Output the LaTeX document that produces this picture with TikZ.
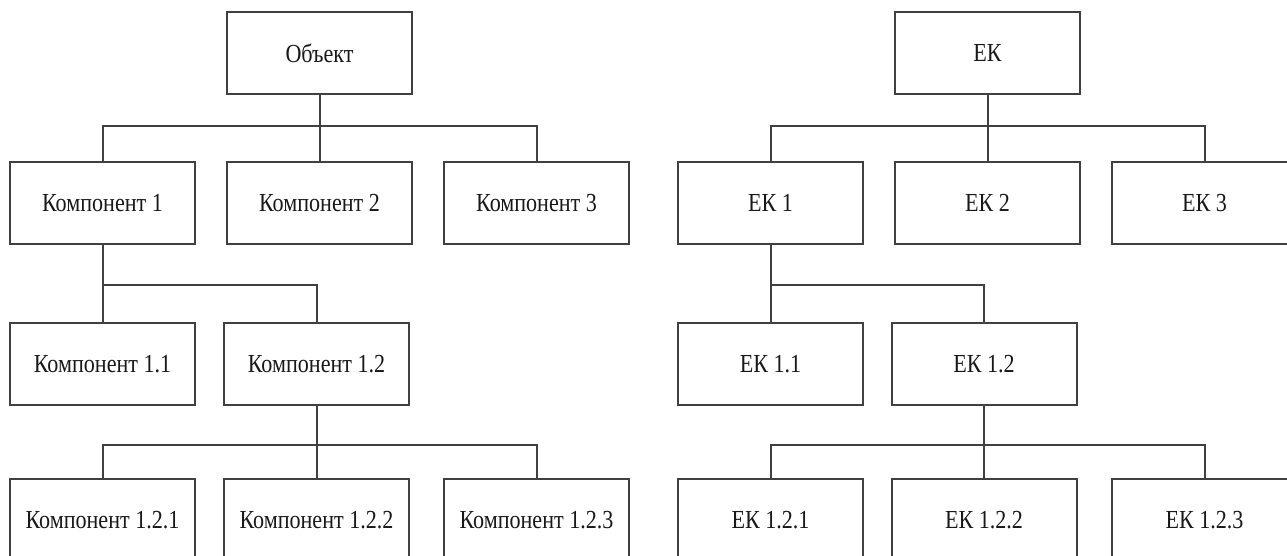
\documentclass[tikz,border=0pt]{standalone}
\usepackage{fontspec}
\usepackage{graphicx}
\setmainfont{Liberation Serif}
\newcommand{\boxtext}[1]{\scalebox{0.85}[1]{#1}}
\tikzset{
  unit/.style={draw=black!75, line width=2pt, fill=white,
    minimum width=185pt, minimum height=82pt, inner sep=0pt,
    text=black!90, font=\fontsize{26}{30}\selectfont},
  link/.style={draw=black!75, line width=2pt}
}
\begin{document}
\begin{tikzpicture}[x=1pt,y=-1pt]
  \clip (0,0) rectangle (1287,555);
  \fill[white] (0,0) rectangle (1287,555);

  % object decomposition tree
  \node[unit] (obj)  at (319.5,53)  {\boxtext{Объект}};
  \node[unit] (k1)   at (102.5,203) {\boxtext{Компонент 1}};
  \node[unit] (k2)   at (319.5,203) {\boxtext{Компонент 2}};
  \node[unit] (k3)   at (536.5,203) {\boxtext{Компонент 3}};
  \node[unit] (k11)  at (102.5,364) {\boxtext{Компонент 1.1}};
  \node[unit] (k12)  at (316.5,364) {\boxtext{Компонент 1.2}};
  \node[unit] (k121) at (102.5,520) {\boxtext{Компонент 1.2.1}};
  \node[unit] (k122) at (316.5,520) {\boxtext{Компонент 1.2.2}};
  \node[unit] (k123) at (536.5,520) {\boxtext{Компонент 1.2.3}};

  \draw[link] (obj.south) -- ++(0,31) -| (k1.north);
  \draw[link] (obj.south) -- ++(0,31) -| (k2.north);
  \draw[link] (obj.south) -- ++(0,31) -| (k3.north);
  \draw[link] (k1.south) -- ++(0,40) -| (k11.north);
  \draw[link] (k1.south) -- ++(0,40) -| (k12.north);
  \draw[link] (k12.south) -- ++(0,39) -| (k121.north);
  \draw[link] (k12.south) -- ++(0,39) -| (k122.north);
  \draw[link] (k12.south) -- ++(0,39) -| (k123.north);

  % EK tree
  \node[unit] (ek)   at (987.5,53)  {\boxtext{ЕК}};
  \node[unit] (ek1)  at (770.5,203) {\boxtext{ЕК 1}};
  \node[unit] (ek2)  at (987.5,203) {\boxtext{ЕК 2}};
  \node[unit] (ek3)  at (1204.5,203) {\boxtext{ЕК 3}};
  \node[unit] (ek11) at (770.5,364) {\boxtext{ЕК 1.1}};
  \node[unit] (ek12) at (984,364)   {\boxtext{ЕК 1.2}};
  \node[unit] (ek121) at (770.5,520) {\boxtext{ЕК 1.2.1}};
  \node[unit] (ek122) at (984,520)   {\boxtext{ЕК 1.2.2}};
  \node[unit] (ek123) at (1204.5,520) {\boxtext{ЕК 1.2.3}};

  \draw[link] (ek.south) -- ++(0,31) -| (ek1.north);
  \draw[link] (ek.south) -- ++(0,31) -| (ek2.north);
  \draw[link] (ek.south) -- ++(0,31) -| (ek3.north);
  \draw[link] (ek1.south) -- ++(0,40) -| (ek11.north);
  \draw[link] (ek1.south) -- ++(0,40) -| (ek12.north);
  \draw[link] (ek12.south) -- ++(0,39) -| (ek121.north);
  \draw[link] (ek12.south) -- ++(0,39) -| (ek122.north);
  \draw[link] (ek12.south) -- ++(0,39) -| (ek123.north);
\end{tikzpicture}
\end{document}
